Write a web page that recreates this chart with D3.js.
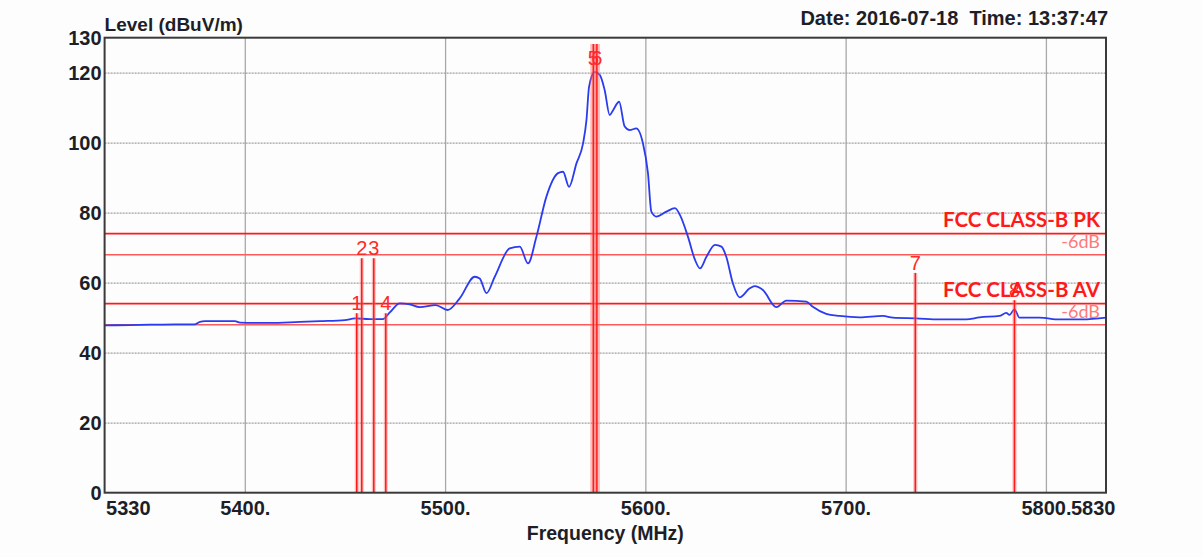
<!DOCTYPE html>
<html>
<head>
<meta charset="utf-8">
<script src="https://cdn.jsdelivr.net/npm/d3@7"></script>
<style>
  body { margin: 0; background: #fcfdfc; }
  svg { display: block; }
  .tick text { font-family: "Liberation Sans", Arial, sans-serif; font-weight: bold; font-size: 20px; fill: #1e1e28; }
</style>
</head>
<body>
<div class="container"></div>
<script>
// trace (MHz, dBuV/m)
var freqs = [5330.0, 5342.7, 5352.7, 5365.1, 5375.1, 5377.6, 5380.1, 5395.1, 5397.6, 5412.6,
    5427.5, 5437.5, 5450.0, 5455.0, 5462.4, 5468.9, 5472.4, 5477.4, 5482.4, 5487.3,
    5495.3, 5501.3, 5507.3, 5514.8, 5517.3, 5520.7, 5524.8, 5532.3, 5537.3, 5541.4,
    5545.6, 5550.6, 5556.4, 5558.9, 5561.9, 5565.6, 5568.9, 5570.6, 5571.9, 5574.7,
    5577.3, 5579.7, 5582.2, 5583.9, 5586.9, 5589.7, 5592.2, 5595.5, 5598.8, 5601.3,
    5603.0, 5605.5, 5610.5, 5614.8, 5617.3, 5621.3, 5624.8, 5627.3, 5630.5, 5634.8,
    5638.0, 5640.4, 5643.7, 5647.1, 5652.1, 5654.6, 5658.7, 5665.4, 5670.4, 5680.4,
    5683.6, 5690.3, 5697.0, 5707.0, 5718.6, 5723.6, 5735.2, 5746.9, 5760.2, 5766.8,
    5776.8, 5780.2, 5781.8, 5784.3, 5786.8, 5796.8, 5806.8, 5818.3, 5830.0];
var levels = [47.8, 47.9, 48.0, 48.1, 48.1, 48.8, 49.0, 49.0, 48.6, 48.5,
    48.8, 49.0, 49.3, 49.8, 49.6, 49.6, 51.5, 54.1, 53.8, 53.0,
    53.6, 52.2, 55.5, 61.7, 61.2, 57.0, 61.7, 69.8, 70.3, 65.5,
    73.1, 84.6, 91.3, 91.7, 87.4, 94.1, 99.8, 106.5, 116.0, 120.2,
    119.3, 115.0, 107.9, 109.3, 111.7, 104.6, 103.6, 104.1, 99.8, 91.3,
    80.3, 78.9, 80.3, 81.3, 79.3, 73.1, 66.5, 64.1, 67.4, 70.8,
    70.3, 67.4, 59.8, 55.8, 58.4, 59.0, 57.9, 53.0, 54.9, 54.6,
    53.1, 51.1, 50.5, 50.1, 50.5, 50.0, 49.8, 49.5, 49.5, 50.1,
    50.5, 51.4, 50.8, 52.4, 50.0, 50.0, 49.5, 49.5, 50.0];

var markerIds = ['1', '2', '3', '4', '5', '6', '7', '8'];
var markerFreqs = [5455.9, 5458.4, 5464.4, 5470.4, 5574.0, 5575.8, 5734.8, 5784.3];
var markerTops = [51.3, 67.0, 67.0, 51.3, 128.2, 128.2, 62.8, 55.0];

var limitNames = ['FCC CLASS-B PK', '-6dB', 'FCC CLASS-B AV', '-6dB'];
var limitLevels = [74, 68, 54, 48];

var yTicks = [0, 20, 40, 60, 80, 100, 120, 130];
var xTicks = [5330, 5400, 5500, 5600, 5700, 5800];
var xTickLabels = ['5330', '5400.', '5500.', '5600.', '5700.', '5800.'];
var xEndLabel = '5830';

const WIDTH = 1203;
const HEIGHT = 557;
const LEFT = 104.6, RIGHT = 1106, TOP = 37.7, BOTTOM = 492.7;

var svg = d3.select('.container').append('svg')
    .attr('width', WIDTH)
    .attr('height', HEIGHT);

var xScale = d3.scaleLinear().domain([5330, 5830]).range([LEFT, RIGHT]);
var yScale = d3.scaleLinear().domain([0, 130]).range([BOTTOM, TOP]);

// grid
svg.append('g')
    .attr('transform', 'translate(0,' + BOTTOM + ')')
    .call(d3.axisBottom(xScale).tickValues(xTicks.slice(1)).tickSize(-(BOTTOM - TOP)).tickFormat(''))
    .call(function (g) {
        g.select('.domain').remove();
        g.selectAll('line').attr('stroke', '#a8a8a8').attr('stroke-width', 1.3);
    });

svg.append('g')
    .attr('transform', 'translate(' + LEFT + ',0)')
    .call(d3.axisLeft(yScale).tickValues([20, 40, 60, 80, 100, 120]).tickSize(-(RIGHT - LEFT)).tickFormat(''))
    .call(function (g) {
        g.select('.domain').remove();
        g.selectAll('line').attr('stroke', '#a0a0a0').attr('stroke-width', 1.3).attr('stroke-dasharray', '2,1');
    });

// limit lines
limitLevels.forEach(function (v, i) {
    var y = yScale(v);
    svg.append('line')
        .attr('x1', LEFT).attr('x2', RIGHT)
        .attr('y1', y).attr('y2', y)
        .attr('stroke', i % 2 ? '#ff5a5a' : '#ff1a1a')
        .attr('stroke-width', i % 2 ? 1.4 : 1.8);
});

// trace
var line = d3.line()
    .x(function (d, i) { return xScale(freqs[i]); })
    .y(function (d) { return yScale(d); })
    .curve(d3.curveMonotoneX);

svg.append('path')
    .datum(levels)
    .attr('d', line)
    .attr('fill', 'none')
    .attr('stroke', '#2b3bf0')
    .attr('stroke-width', 1.8);

// markers
var mk = svg.append('g');
markerIds.forEach(function (id, i) {
    var x = xScale(markerFreqs[i]);
    var yTop = yScale(markerTops[i]);
    var wide = markerTops[i] > 100;
    mk.append('line')
        .attr('x1', x).attr('x2', x).attr('y1', yTop).attr('y2', BOTTOM)
        .attr('stroke', '#ff6a6a').attr('stroke-opacity', 0.45).attr('stroke-width', wide ? 6 : 4);
    mk.append('line')
        .attr('x1', x).attr('x2', x).attr('y1', yTop).attr('y2', BOTTOM)
        .attr('stroke', '#ff1a1a').attr('stroke-width', 1.5);
    mk.append('text')
        .attr('x', x)
        .attr('y', Math.max(yTop - 3, TOP + 27))
        .attr('text-anchor', 'middle')
        .style('font-family', '"Liberation Sans", Arial, sans-serif')
        .style('font-size', '20px')
        .attr('fill', '#ff2a2a')
        .text(id);
});

// frame
svg.append('rect')
    .attr('x', LEFT).attr('y', TOP)
    .attr('width', RIGHT - LEFT).attr('height', BOTTOM - TOP)
    .attr('fill', 'none')
    .attr('stroke', '#3a3a3a')
    .attr('stroke-width', 2);

// limit labels
limitNames.forEach(function (name, i) {
    var y = yScale(limitLevels[i]);
    svg.append('text')
        .attr('x', 1100)
        .attr('y', y - 6.5)
        .attr('text-anchor', 'end')
        .style('font-family', 'Lato, "Open Sans", sans-serif')
        .style('font-weight', i % 2 ? 'normal' : 'bold')
        .style('font-size', i % 2 ? '18px' : '20.5px')
        .attr('fill', i % 2 ? '#ff7a7a' : '#ff1a1a')
        .text(name);
});

// axes labels
svg.append('g')
    .attr('transform', 'translate(' + (LEFT - 3) + ',0)')
    .call(d3.axisLeft(yScale).tickValues(yTicks).tickSize(0).tickPadding(0).tickFormat(function (d) { return d; }))
    .call(function (g) { g.select('.domain').remove(); });

var xAxis = svg.append('g')
    .attr('transform', 'translate(0,' + (BOTTOM + 6) + ')')
    .call(d3.axisBottom(xScale).tickValues(xTicks).tickSize(0).tickPadding(2)
        .tickFormat(function (d, i) { return xTickLabels[i]; }))
    .call(function (g) { g.select('.domain').remove(); });

xAxis.selectAll('.tick text').attr('text-anchor', function (d, i) { return i === 0 ? 'start' : 'middle'; })
    .attr('dx', function (d, i) { return i === 0 ? 1 : 0; });

var lastTick = xAxis.selectAll('.tick text').filter(function (d, i) { return i === xTicks.length - 1; });
var lastW = lastTick.node().getComputedTextLength();
xAxis.append('g').attr('class', 'tick')
    .attr('transform', 'translate(' + (xScale(5800) + lastW / 2) + ',0)')
    .append('text')
    .attr('y', 2).attr('dy', '0.71em')
    .attr('text-anchor', 'start')
    .text(xEndLabel);

svg.append('text')
    .attr('x', (LEFT + RIGHT) / 2)
    .attr('y', 540)
    .attr('text-anchor', 'middle')
    .style('font-family', '"Liberation Sans", Arial, sans-serif')
    .style('font-weight', 'bold')
    .style('font-size', '19.5px')
    .attr('fill', '#1e1e28')
    .text('Frequency (MHz)');

svg.append('text')
    .attr('x', LEFT)
    .attr('y', 31)
    .style('font-family', '"Liberation Sans", Arial, sans-serif')
    .style('font-weight', 'bold')
    .style('font-size', '19px')
    .attr('fill', '#1e1e28')
    .text('Level (dBuV/m)');

svg.append('text')
    .attr('x', 1108)
    .attr('y', 25)
    .attr('text-anchor', 'end')
    .style('font-family', '"Liberation Sans", Arial, sans-serif')
    .style('font-weight', 'bold')
    .style('font-size', '20px')
    .attr('fill', '#1e1e28')
    .style('white-space', 'pre')
    .text('Date: 2016-07-18  Time: 13:37:47');
</script>
</body>
</html>
